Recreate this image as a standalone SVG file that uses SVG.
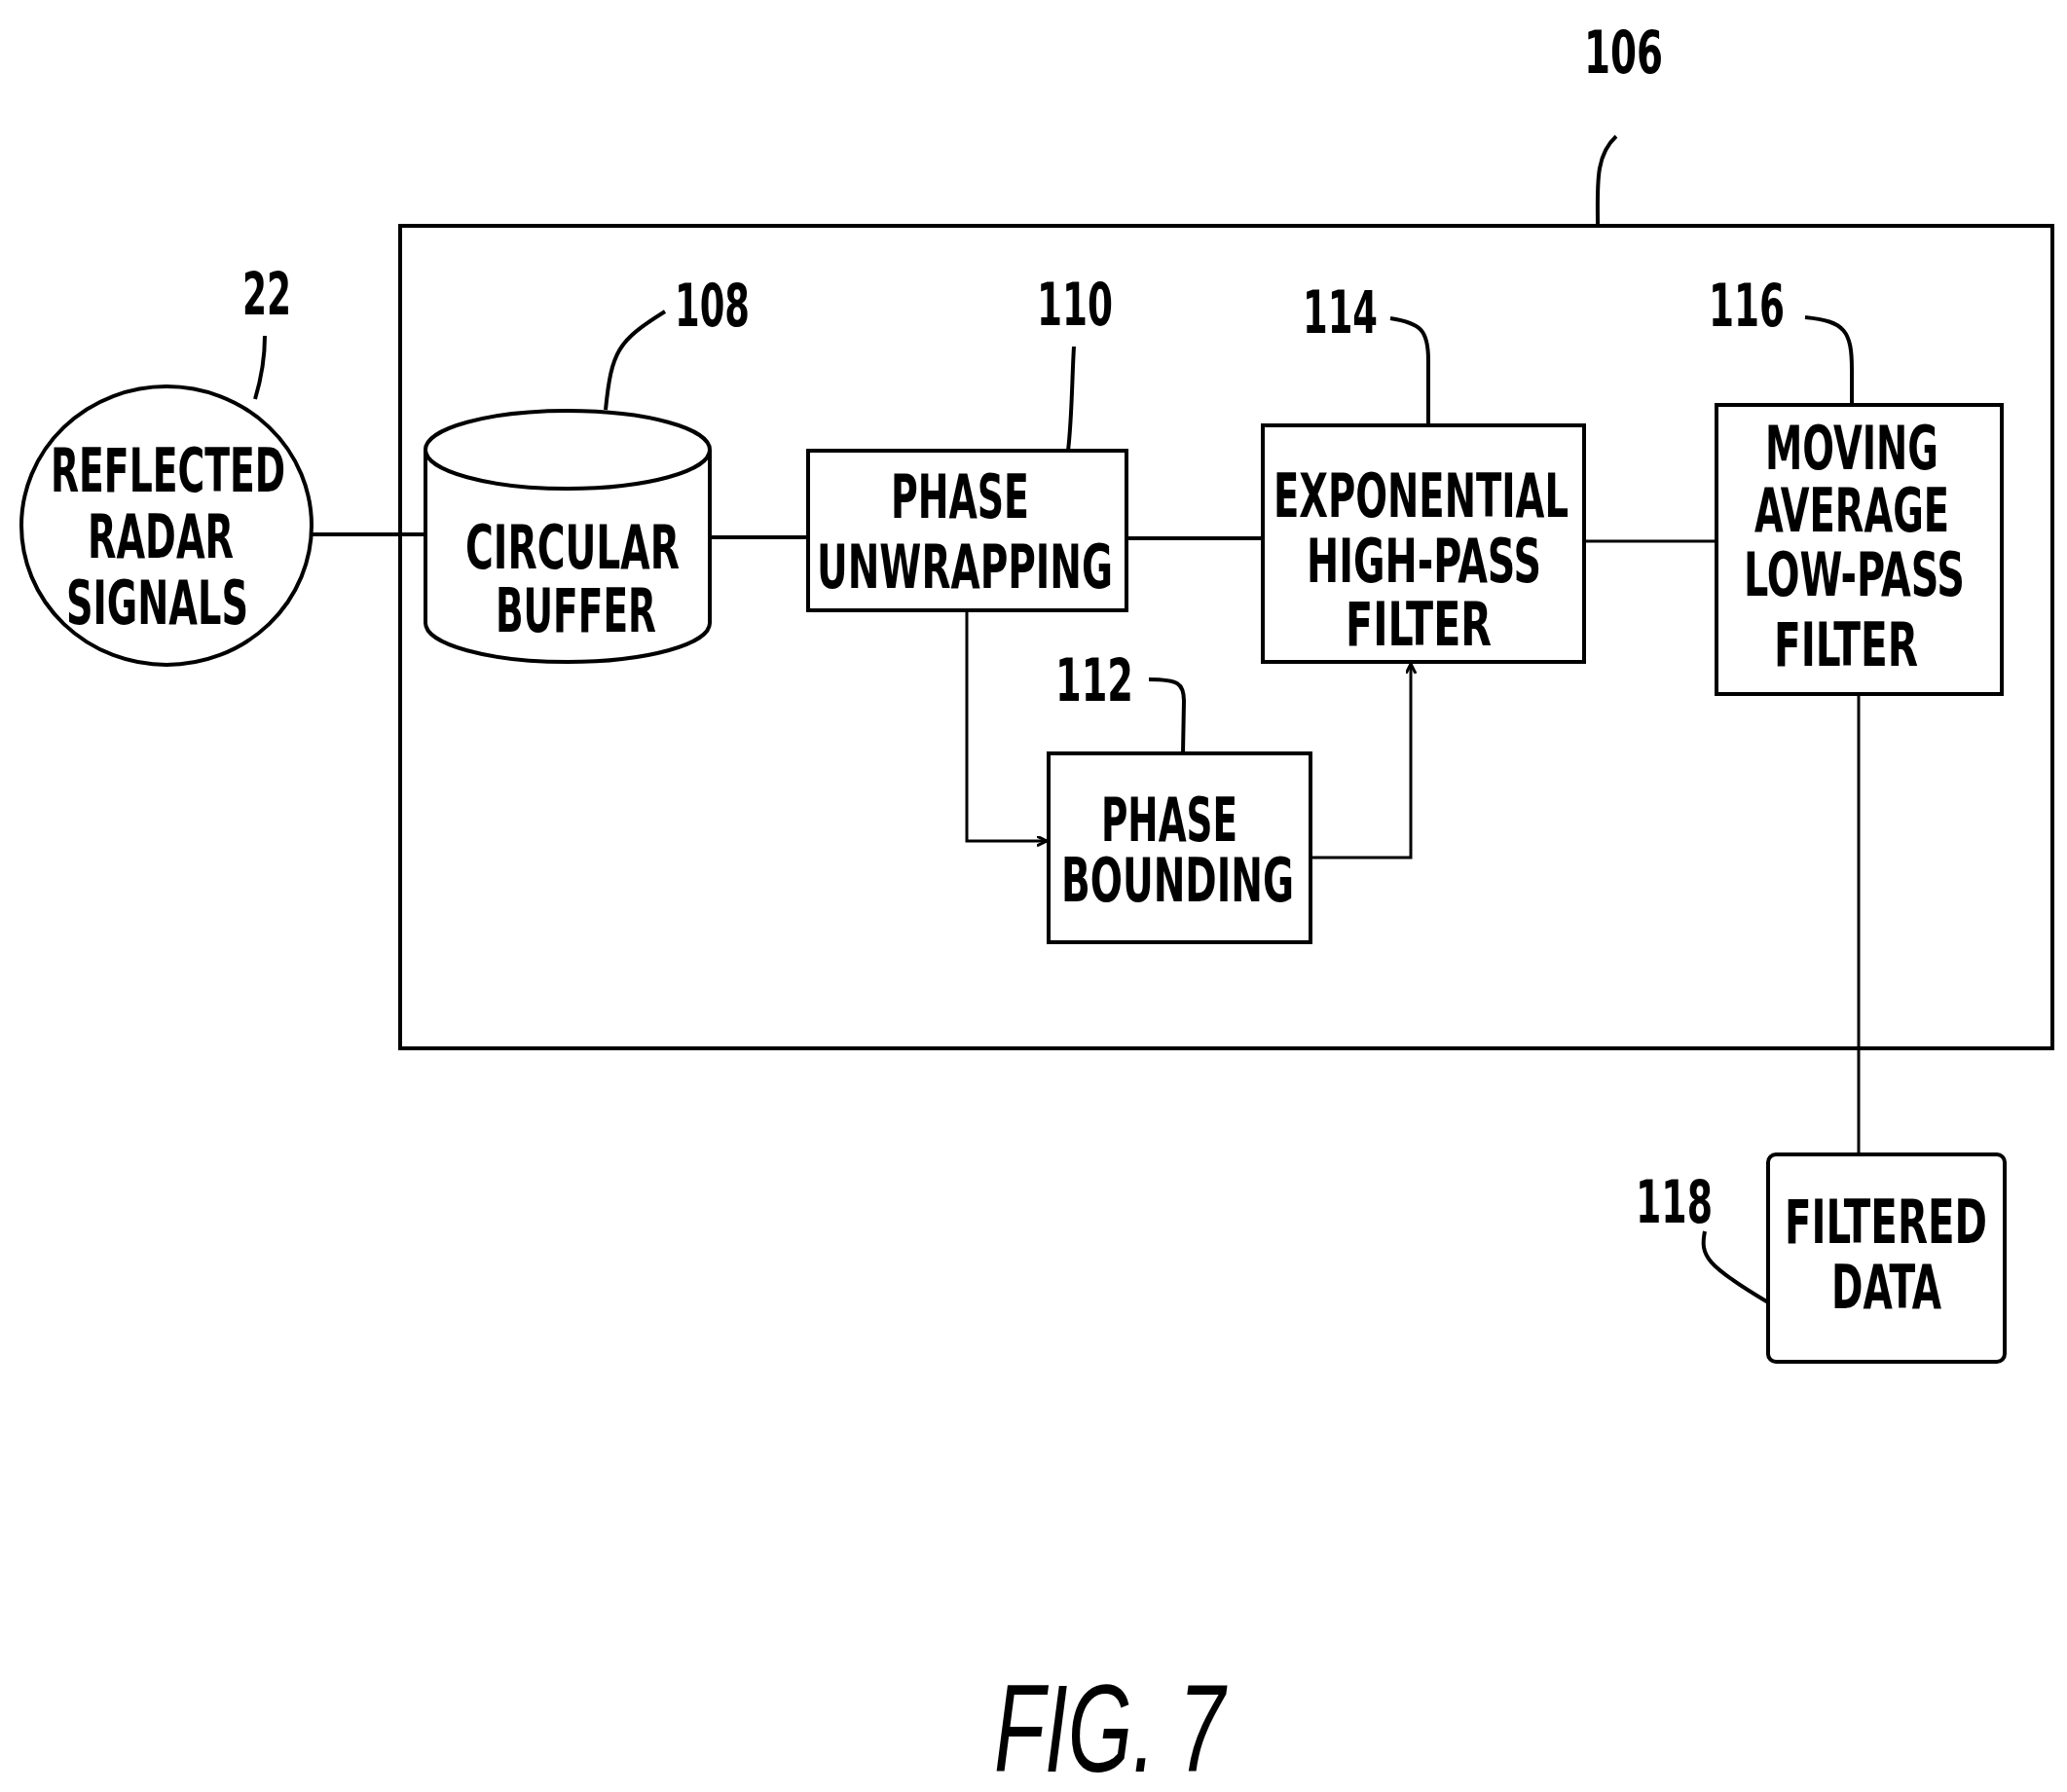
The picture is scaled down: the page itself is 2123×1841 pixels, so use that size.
<svg xmlns="http://www.w3.org/2000/svg" width="2123" height="1841" viewBox="0 0 2123 1841">
<style>
.s{fill:none;stroke:#000;stroke-width:4}
.t{font-family:"DejaVu Sans Condensed","DejaVu Sans",sans-serif;font-weight:bold;font-size:62px;fill:#000}
.n{font-family:"DejaVu Sans Condensed","DejaVu Sans",sans-serif;font-weight:bold;font-size:60px;fill:#000}
</style>
<defs><marker id="a" markerWidth="12" markerHeight="12" refX="10" refY="5" orient="auto" markerUnits="userSpaceOnUse"><path d="M0,0 L10,5 L0,10" fill="none" stroke="#000" stroke-width="3"/></marker></defs>
<rect fill="#fff" width="2123" height="1841"/>
<g id="frame106"><rect class="s" x="411" y="232" width="1697" height="845"/>
<text class="n" x="1627" y="75" textLength="81" lengthAdjust="spacingAndGlyphs">106</text>
<path class="s" d="M1641,232 C1641,190 1638,160 1660,140" stroke-width="3"/></g>
<g id="n22"><ellipse class="s" cx="171" cy="540" rx="149" ry="143"/>
<text class="t" x="52" y="505" textLength="241" lengthAdjust="spacingAndGlyphs">REFLECTED</text>
<text class="t" x="90" y="573" textLength="150" lengthAdjust="spacingAndGlyphs">RADAR</text>
<text class="t" x="68" y="641" textLength="187" lengthAdjust="spacingAndGlyphs">SIGNALS</text>
<text class="n" x="249" y="323" textLength="50" lengthAdjust="spacingAndGlyphs">22</text>
<path class="s" stroke-width="3" d="M272,345 C272,370 268,390 262,410"/></g>
<g id="n108"><path class="s" d="M437,462 L437,640 A146,40 0 0 0 729,640 L729,462"/>
<ellipse class="s" cx="583" cy="462" rx="146" ry="40"/>
<text class="t" x="478" y="584" textLength="220" lengthAdjust="spacingAndGlyphs">CIRCULAR</text>
<text class="t" x="509" y="649" textLength="165" lengthAdjust="spacingAndGlyphs">BUFFER</text>
<text class="n" x="693" y="335" textLength="77" lengthAdjust="spacingAndGlyphs">108</text>
<path class="s" stroke-width="3" d="M622,421 C628,360 635,350 683,320"/></g>
<g id="n110"><rect class="s" x="830" y="463" width="327" height="164"/>
<text class="t" x="915" y="532" textLength="142" lengthAdjust="spacingAndGlyphs">PHASE</text>
<text class="t" x="839" y="604" textLength="304" lengthAdjust="spacingAndGlyphs">UNWRAPPING</text>
<text class="n" x="1065" y="334" textLength="78" lengthAdjust="spacingAndGlyphs">110</text>
<path class="s" stroke-width="3" d="M1097,463 C1101,430 1101,390 1103,356"/></g>
<g id="n114"><rect class="s" x="1297" y="437" width="330" height="243"/>
<text class="t" x="1308" y="531" textLength="303" lengthAdjust="spacingAndGlyphs">EXPONENTIAL</text>
<text class="t" x="1342" y="598" textLength="241" lengthAdjust="spacingAndGlyphs">HIGH-PASS</text>
<text class="t" x="1382" y="663" textLength="150" lengthAdjust="spacingAndGlyphs">FILTER</text>
<text class="n" x="1338" y="342" textLength="77" lengthAdjust="spacingAndGlyphs">114</text>
<path class="s" stroke-width="3" d="M1428,327 C1460,332 1467,340 1467,370 L1467,437"/></g>
<g id="n116"><rect class="s" x="1763" y="416" width="293" height="297"/>
<text class="t" x="1813" y="482" textLength="178" lengthAdjust="spacingAndGlyphs">MOVING</text>
<text class="t" x="1802" y="546" textLength="200" lengthAdjust="spacingAndGlyphs">AVERAGE</text>
<text class="t" x="1791" y="612" textLength="227" lengthAdjust="spacingAndGlyphs">LOW-PASS</text>
<text class="t" x="1822" y="684" textLength="148" lengthAdjust="spacingAndGlyphs">FILTER</text>
<text class="n" x="1755" y="335" textLength="78" lengthAdjust="spacingAndGlyphs">116</text>
<path class="s" stroke-width="3" d="M1854,326 C1895,330 1902,340 1902,380 L1902,416"/></g>
<g id="n112"><rect class="s" x="1077" y="774" width="269" height="194"/>
<text class="t" x="1131" y="864" textLength="140" lengthAdjust="spacingAndGlyphs">PHASE</text>
<text class="t" x="1090" y="926" textLength="239" lengthAdjust="spacingAndGlyphs">BOUNDING</text>
<text class="n" x="1084" y="720" textLength="80" lengthAdjust="spacingAndGlyphs">112</text>
<path class="s" stroke-width="3" d="M1180,698 C1210,698 1216,702 1216,720 L1215,774"/></g>
<g id="n118"><rect class="s" x="1816" y="1186" width="243" height="213" rx="8"/>
<text class="t" x="1833" y="1277" textLength="208" lengthAdjust="spacingAndGlyphs">FILTERED</text>
<text class="t" x="1881" y="1344" textLength="113" lengthAdjust="spacingAndGlyphs">DATA</text>
<text class="n" x="1680" y="1256" textLength="79" lengthAdjust="spacingAndGlyphs">118</text>
<path class="s" stroke-width="3" d="M1751,1265 C1746,1290 1752,1300 1816,1338"/></g>
<g id="connectors" class="s">
<path d="M320,549 H437"/>
<path d="M729,552 H830"/>
<path d="M1157,553 H1297"/>
<path d="M1627,556 H1763" stroke-width="3"/>
<path d="M1909,713 V1186" stroke-width="3"/>
<path d="M993,627 V864 H1075" stroke-width="3" marker-end="url(#a)"/>
<path d="M1346,881 H1449 V682" stroke-width="3" marker-end="url(#a)"/>
</g>
<text x="1021" y="1820" font-family="Liberation Sans,sans-serif" font-style="italic" font-size="128" textLength="237" lengthAdjust="spacingAndGlyphs">FIG. 7</text>
</svg>
